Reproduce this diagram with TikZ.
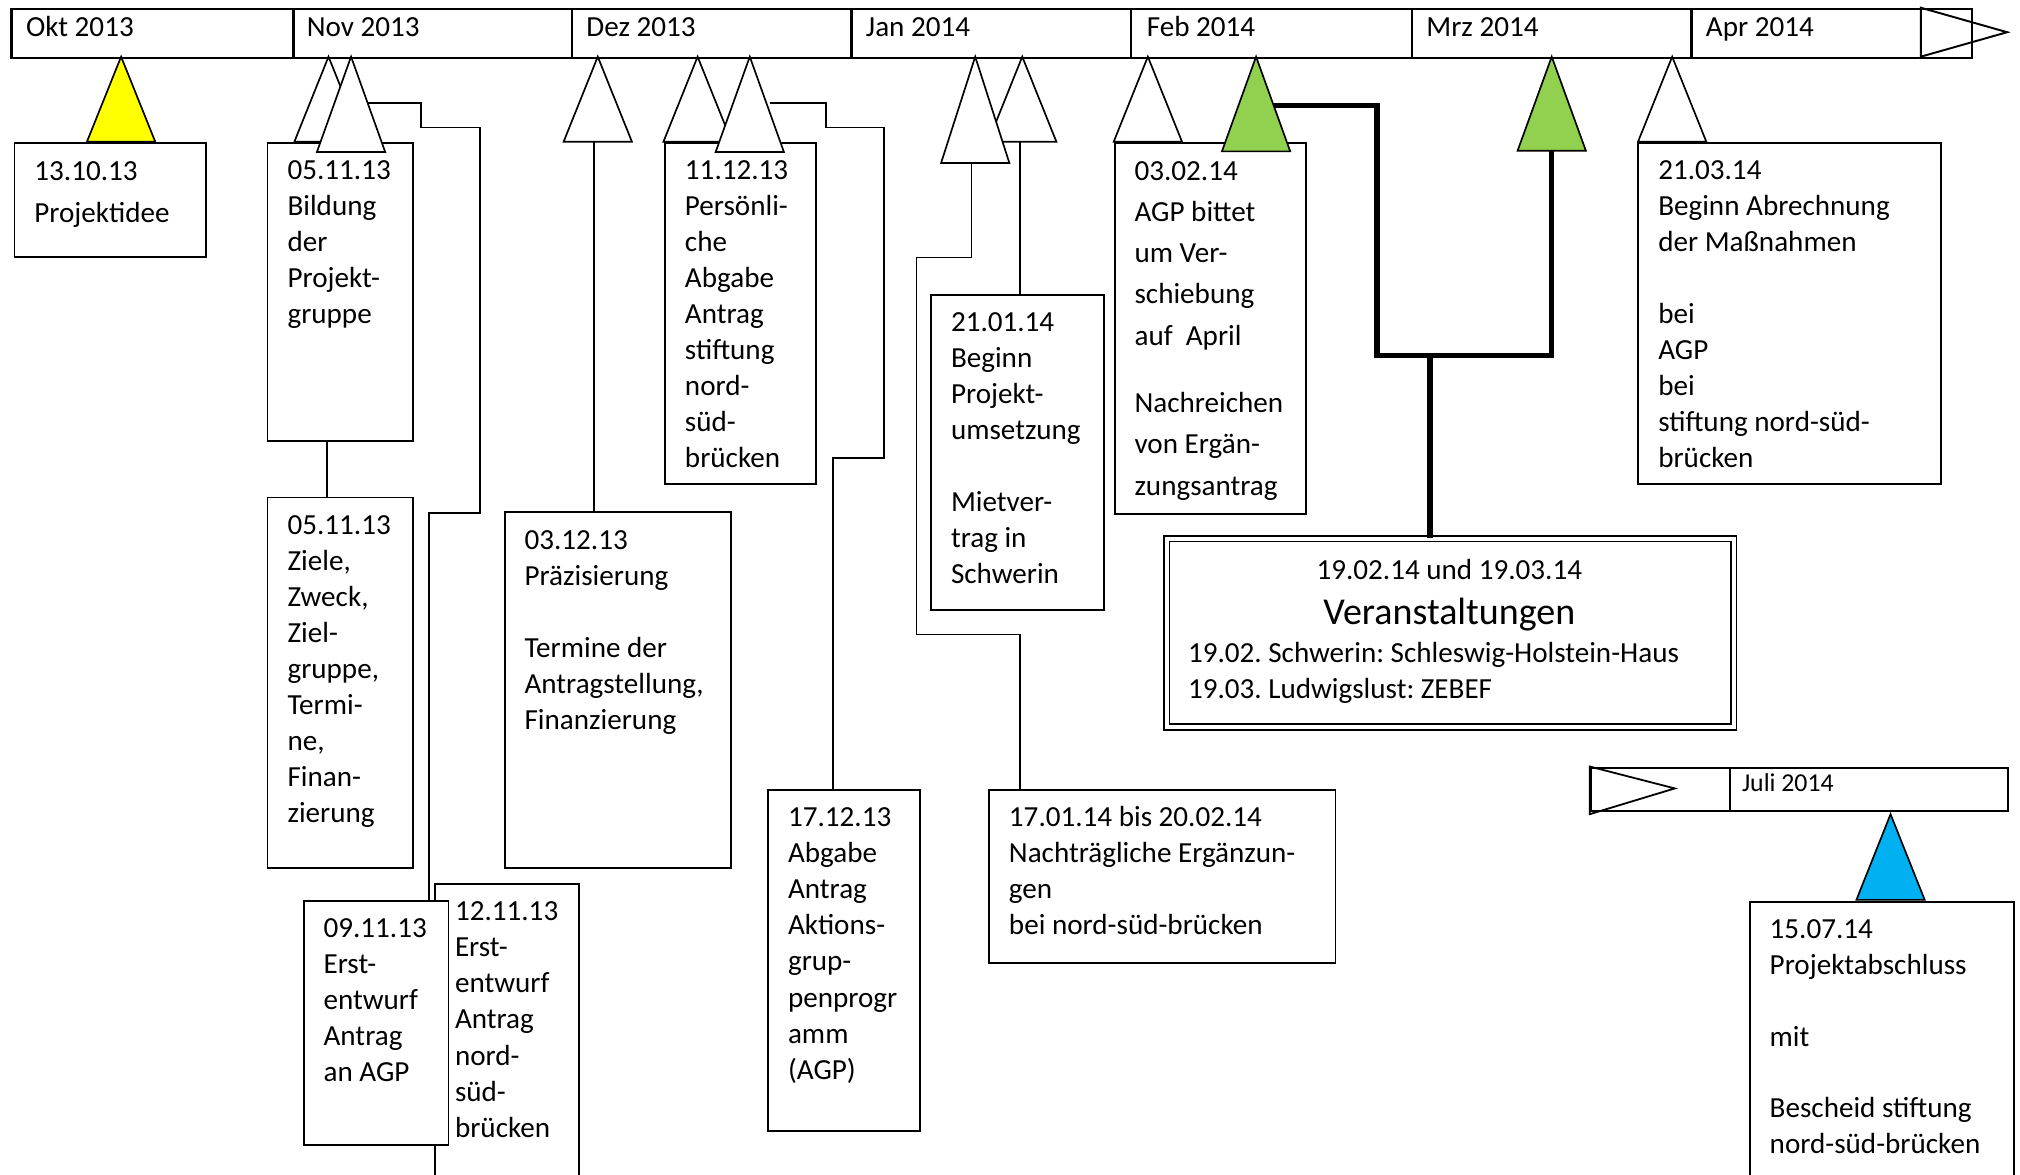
\documentclass[tikz,border=0pt]{standalone}
\usepackage{fontspec}
\setmainfont{Carlito}
\frenchspacing
\newcommand\mytopstrut{\rule{0pt}{20pt}}
\definecolor{myyellow}{HTML}{FFFF00}
\definecolor{mygreen}{HTML}{92D050}
\definecolor{myblue}{HTML}{00B0F0}
\tikzset{
  x=1pt, y=-1pt,
  box/.style={draw, fill=white, line width=1.4pt, inner sep=0pt, anchor=north west},
  cell/.style={draw, line width=1.8pt, inner sep=0pt, anchor=north west, minimum height=38pt},
  jcell/.style={draw, line width=1.6pt, inner sep=0pt, anchor=north west, minimum height=34pt},
  txt/.style={inner sep=0pt, anchor=north west, align=left, font=\fontsize{22.6}{28}\selectfont},
  mlabel/.style={inner sep=0pt, anchor=base west, font=\fontsize{22.6}{28}\selectfont},
  conn/.style={line width=1.3pt},
  tconn/.style={line width=4.2pt, line join=miter},
  tri/.style={draw, line width=1.3pt, fill=white, line join=miter},
}
\begin{document}
\begin{tikzpicture}
\useasboundingbox (0,0) rectangle (1568,912);
\clip (0,0) rectangle (1568,912);
\fill[white] (0,0) rectangle (1568,912);

% ---- main timeline bar
\node[cell, minimum width=219pt] (okt) at (8,6) {};
\node[cell, minimum width=216pt] (nov) at (227,6) {};
\node[cell, minimum width=217pt] (dez) at (443,6) {};
\node[cell, minimum width=217pt] (jan) at (660,6) {};
\node[cell, minimum width=218pt] (feb) at (877,6) {};
\node[cell, minimum width=217pt] (mrz) at (1095,6) {};
\node[cell, minimum width=218pt] (apr) at (1312,6) {};
\draw[line width=1.5pt, line join=miter] (1491,6) -- (1558,25) -- (1491,44) -- cycle;
\node[mlabel] (lokt) at (20,28) {Okt 2013};
\node[mlabel] (lnov) at (238,28) {Nov 2013};
\node[mlabel] (ldez) at (455,28) {Dez 2013};
\node[mlabel] (ljan) at (672,28) {Jan 2014};
\node[mlabel] (lfeb) at (890,28) {Feb 2014};
\node[mlabel] (lmrz) at (1107,28) {Mrz 2014};
\node[mlabel] (lapr) at (1324,28) {Apr 2014};

% ---- second timeline bar (Juli)
\node[jcell, minimum width=108pt] (jleer) at (1234,595) {};
\node[jcell, minimum width=216pt] (juli) at (1342,595) {};
\draw[line width=1.4pt, line join=miter] (1234,595) -- (1300,612) -- (1234,632) -- cycle;
\node[inner sep=0pt, anchor=base west, font=\fontsize{20}{24}\selectfont] (ljuli) at (1352,614.5) {Juli 2014};

% ---- connector start points (inside triangles)
\coordinate (cB) at (280,80);
\coordinate (cdez) at (461,100);
\coordinate (cD) at (598,80);
\coordinate (cE) at (754,110);
\coordinate (cF) at (792,100);
\coordinate (cH) at (985,82);
\coordinate (cI) at (1204.5,100);
\coordinate (cJ) at (1110,276);

% ---- boxes
\node[box, minimum width=148.5pt, minimum height=89pt] (b1310) at (10.5,110) {};
\node[box, minimum width=113pt, minimum height=231.5pt] (b0511a) at (207,110) {};
\node[box, minimum width=113pt, minimum height=287.5pt] (b0511b) at (207,385.5) {};
\node[box, minimum width=112pt, minimum height=260pt] (b1211) at (337,685.5) {};
\node[box, minimum width=112pt, minimum height=189.5pt] (b0911) at (235.5,698.5) {};
\node[box, minimum width=175pt, minimum height=276pt] (b0312) at (391.5,397) {};
\node[box, minimum width=117pt, minimum height=265pt] (b1112) at (515.5,110) {};
\node[box, minimum width=118pt, minimum height=264.5pt] (b1712) at (595.5,612.5) {};
\node[box, minimum width=134pt, minimum height=245pt] (b2101) at (722,228) {};
\node[box, minimum width=269pt, minimum height=134pt] (b1701) at (767,612.5) {};
\node[box, minimum width=148.5pt, minimum height=288pt] (b0302) at (864.5,110) {};
\node[box, minimum width=440pt, minimum height=146pt, double, double distance=3.2pt, line width=1.3pt] (ver) at (905,417.5) {};
\node[box, minimum width=235pt, minimum height=265pt] (b2103) at (1271,110) {};
\node[box, minimum width=205pt, minimum height=260pt] (b1507) at (1357.5,699.5) {};

% ---- connectors
\draw[conn] (254,0 |- b0511a.south) -- (254,0 |- b0511b.north);
\draw[conn] (cB) -- (327,80) -- (327,99) -- (372.5,99) -- (372.5,398) -- (333,398) -- (333,0 |- b0911.north);
\draw[conn] (cdez) -- (461,0 |- b0312.north);
\draw[conn] (cD) -- (641,80) -- (641,99) -- (686,99) -- (686,355.5) -- (646.5,355.5) -- (646.5,0 |- b1712.north);
\draw[conn] (cE) -- (754,200) -- (711.5,200) -- (711.5,492.5) -- (792,492.5) -- (792,0 |- b1701.north);
\draw[conn] (cF) -- (792,0 |- b2101.north);
\draw[tconn] (cH) -- (1069,82) -- (1069,276) -- (1204.5,276) -- (cI);
\draw[tconn] (cJ) -- (1110,0 |- ver.north);

% ---- triangles
\coordinate (ty) at (94,44);
\coordinate (tA) at (255,44);
\coordinate (tB) at (272.5,44);
\coordinate (tdez) at (464,44);
\coordinate (tC) at (541.5,44);
\coordinate (tD) at (582,44);
\coordinate (tF) at (793.5,44);
\coordinate (tE) at (757,44);
\coordinate (tG) at (891,44);
\coordinate (tH) at (975,44);
\coordinate (tI) at (1204.5,44);
\coordinate (tJ) at (1298,44);
\coordinate (tblue) at (1467.5,632);
\draw[tri, fill=myyellow] (ty) -- ++(26.5,66) -- ++(-53,0) -- cycle;
\draw[tri] (tA) -- ++(26.5,66) -- ++(-53,0) -- cycle;
\draw[tri] (tB) -- ++(26.5,74) -- ++(-53,0) -- cycle;
\draw[tri] (tdez) -- ++(26.5,66) -- ++(-53,0) -- cycle;
\draw[tri] (tC) -- ++(26.5,66) -- ++(-53,0) -- cycle;
\draw[tri] (tD) -- ++(26.5,74) -- ++(-53,0) -- cycle;
\draw[tri] (tF) -- ++(26.5,66) -- ++(-53,0) -- cycle;
\draw[tri] (tE) -- ++(26.5,82.5) -- ++(-53,0) -- cycle;
\draw[tri] (tG) -- ++(26.5,66) -- ++(-53,0) -- cycle;
\draw[tri, fill=mygreen] (tH) -- ++(26.5,73.5) -- ++(-53,0) -- cycle;
\draw[tri, fill=mygreen] (tI) -- ++(26.5,73) -- ++(-53,0) -- cycle;
\draw[tri] (tJ) -- ++(26.5,66) -- ++(-53,0) -- cycle;
\draw[tri, fill=myblue] (tblue) -- ++(26.5,66.5) -- ++(-53,0) -- cycle;

% ---- texts
\node[txt, font=\fontsize{22.6}{32.5}\selectfont] (x1310) at ([shift={(16,9.7)}]b1310.north west) {\mytopstrut 13.10.13\\Projektidee};
\node[txt] (x0511a) at ([shift={(16,9)}]b0511a.north west) {\mytopstrut 05.11.13\\Bildung\\der\\Projekt-\\gruppe};
\node[txt] (x0511b) at ([shift={(16,9)}]b0511b.north west) {\mytopstrut 05.11.13\\Ziele,\\Zweck,\\Ziel-\\gruppe,\\Termi-\\ne,\\Finan-\\zierung};
\node[txt] (x1211) at ([shift={(16,9)}]b1211.north west) {\mytopstrut 12.11.13\\Erst-\\entwurf\\Antrag\\nord-\\süd-\\brücken};
\node[txt] (x0911) at ([shift={(15.5,9)}]b0911.north west) {\mytopstrut 09.11.13\\Erst-\\entwurf\\Antrag\\an AGP};
\node[txt] (x0312) at ([shift={(15.5,9)}]b0312.north west) {\mytopstrut 03.12.13\\Präzisierung\\[28pt]Termine der\\Antragstellung,\\Finanzierung};
\node[txt] (x1112) at ([shift={(16,9)}]b1112.north west) {\mytopstrut 11.12.13\\Persönli-\\che\\Abgabe\\Antrag\\stiftung\\nord-\\süd-\\brücken};
\node[txt] (x1712) at ([shift={(16,9)}]b1712.north west) {\mytopstrut 17.12.13\\Abgabe\\Antrag\\Aktions-\\grup-\\penprogr\\amm\\(AGP)};
\node[txt] (x2101) at ([shift={(16,9)}]b2101.north west) {\mytopstrut 21.01.14\\Beginn\\Projekt-\\umsetzung\\[27.5pt]Mietver-\\trag in\\Schwerin};
\node[txt] (x1701) at ([shift={(16,9)}]b1701.north west) {\mytopstrut 17.01.14 bis 20.02.14\\Nachträgliche Ergänzun-\\gen\\bei nord-süd-brücken};
\node[txt, font=\fontsize{22.6}{32}\selectfont] (x0302) at ([shift={(16,9.7)}]b0302.north west) {\mytopstrut 03.02.14\\AGP bittet\\um Ver-\\schiebung\\auf\ \ April\\[20.5pt]Nachreichen\\von Ergän-\\zungsantrag};
\node[txt] (x2103) at ([shift={(16,9)}]b2103.north west) {\mytopstrut 21.03.14\\Beginn Abrechnung\\der Maßnahmen\\[28pt]bei\\AGP\\bei\\stiftung nord-süd-\\brücken};
\node[txt] (x1507) at ([shift={(16,9)}]b1507.north west) {\mytopstrut 15.07.14\\Projektabschluss\\[27.5pt]mit\\[27.5pt]Bescheid stiftung\\nord-süd-brücken};

\node[inner sep=0pt, anchor=base, font=\fontsize{22.6}{28}\selectfont] (v1) at (1125,450) {19.02.14 und 19.03.14};
\node[inner sep=0pt, anchor=base, font=\fontsize{29.5}{34}\selectfont] (v2) at (1125,484.5) {Veranstaltungen};
\node[inner sep=0pt, anchor=base west, font=\fontsize{22.6}{28}\selectfont] (v3) at (922,514) {19.02. Schwerin: Schleswig-Holstein-Haus};
\node[inner sep=0pt, anchor=base west, font=\fontsize{22.6}{28}\selectfont] (v4) at (922,542) {19.03. Ludwigslust: ZEBEF};
\end{tikzpicture}
\end{document}
